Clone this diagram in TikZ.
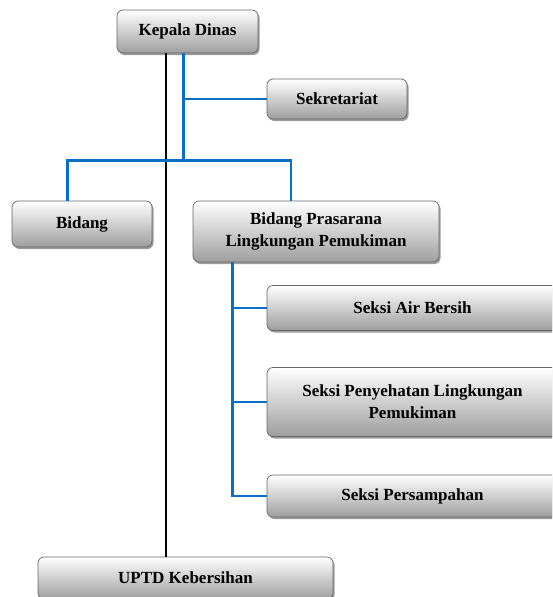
\documentclass[tikz,border=0pt]{standalone}
\usepackage{fontspec}
\setmainfont{Liberation Serif}
\usetikzlibrary{shadows}
\definecolor{lineblue}{HTML}{0A70C6}
\tikzset{
 box/.style={draw=black!60, line width=0.7pt, rounded corners=6pt, top color=white, bottom color=black!38,
   drop shadow={shadow xshift=1.5pt, shadow yshift=-2pt, fill=black!55, opacity=0.7},
   align=center, font=\bfseries\fontsize{17}{22}\selectfont, inner sep=0pt},
 bluecon/.style={draw=lineblue, line width=2.2pt},
 blkcon/.style={draw=black, line width=2pt},
}
\begin{document}
\begin{tikzpicture}[x=1pt,y=-1pt]
\useasboundingbox (0,0) rectangle (552,597);
\clip (0,0) rectangle (552,597);
% boxes
\node[box, minimum width=141pt, minimum height=43pt] (kd) at (187.5,31.5) {Kepala Dinas};
\node[box, minimum width=140pt, minimum height=40pt] (sek) at (337,99) {Sekretariat};
\node[box, minimum width=140pt, minimum height=46pt] (bid) at (82,224) {Bidang};
\node[box, minimum width=246pt, minimum height=61pt] (bpl) at (316,231.5) {Bidang Prasarana\\Lingkungan Pemukiman};
\node[box, minimum width=291pt, minimum height=45pt] (s1) at (412.5,308) {Seksi Air Bersih};
\node[box, minimum width=291pt, minimum height=69pt] (s2) at (412.5,402) {Seksi Penyehatan Lingkungan\\Pemukiman};
\node[box, minimum width=291pt, minimum height=42pt] (s3) at (412.5,496) {Seksi Persampahan};
\node[box, minimum width=295pt, minimum height=42pt] (uptd) at (185.5,578) {UPTD Kebersihan};
% helper coordinates
\coordinate (bk) at (166,0);
\coordinate (bl) at (183.5,0);
\coordinate (busl) at (67.5,160.5);
\coordinate (busm) at (183.5,160.5);
\coordinate (busr) at (291,160.5);
\coordinate (vx) at (232.5,0);
% connectors
\draw[blkcon] (bk |- kd.south) -- (bk |- uptd.north);
\draw[bluecon] (bl |- kd.south) -- (busm);
\draw[bluecon] (bl |- sek.west) -- (sek.west);
\draw[bluecon] (busl |- bid.north) -- (busl) -- (busr) -- (busr |- bpl.north);
\draw[bluecon] (vx |- bpl.south) -- (vx |- s3.west) -- (s3.west);
\draw[bluecon] (vx |- s1.west) -- (s1.west);
\draw[bluecon] (vx |- s2.west) -- (s2.west);
\end{tikzpicture}
\end{document}
